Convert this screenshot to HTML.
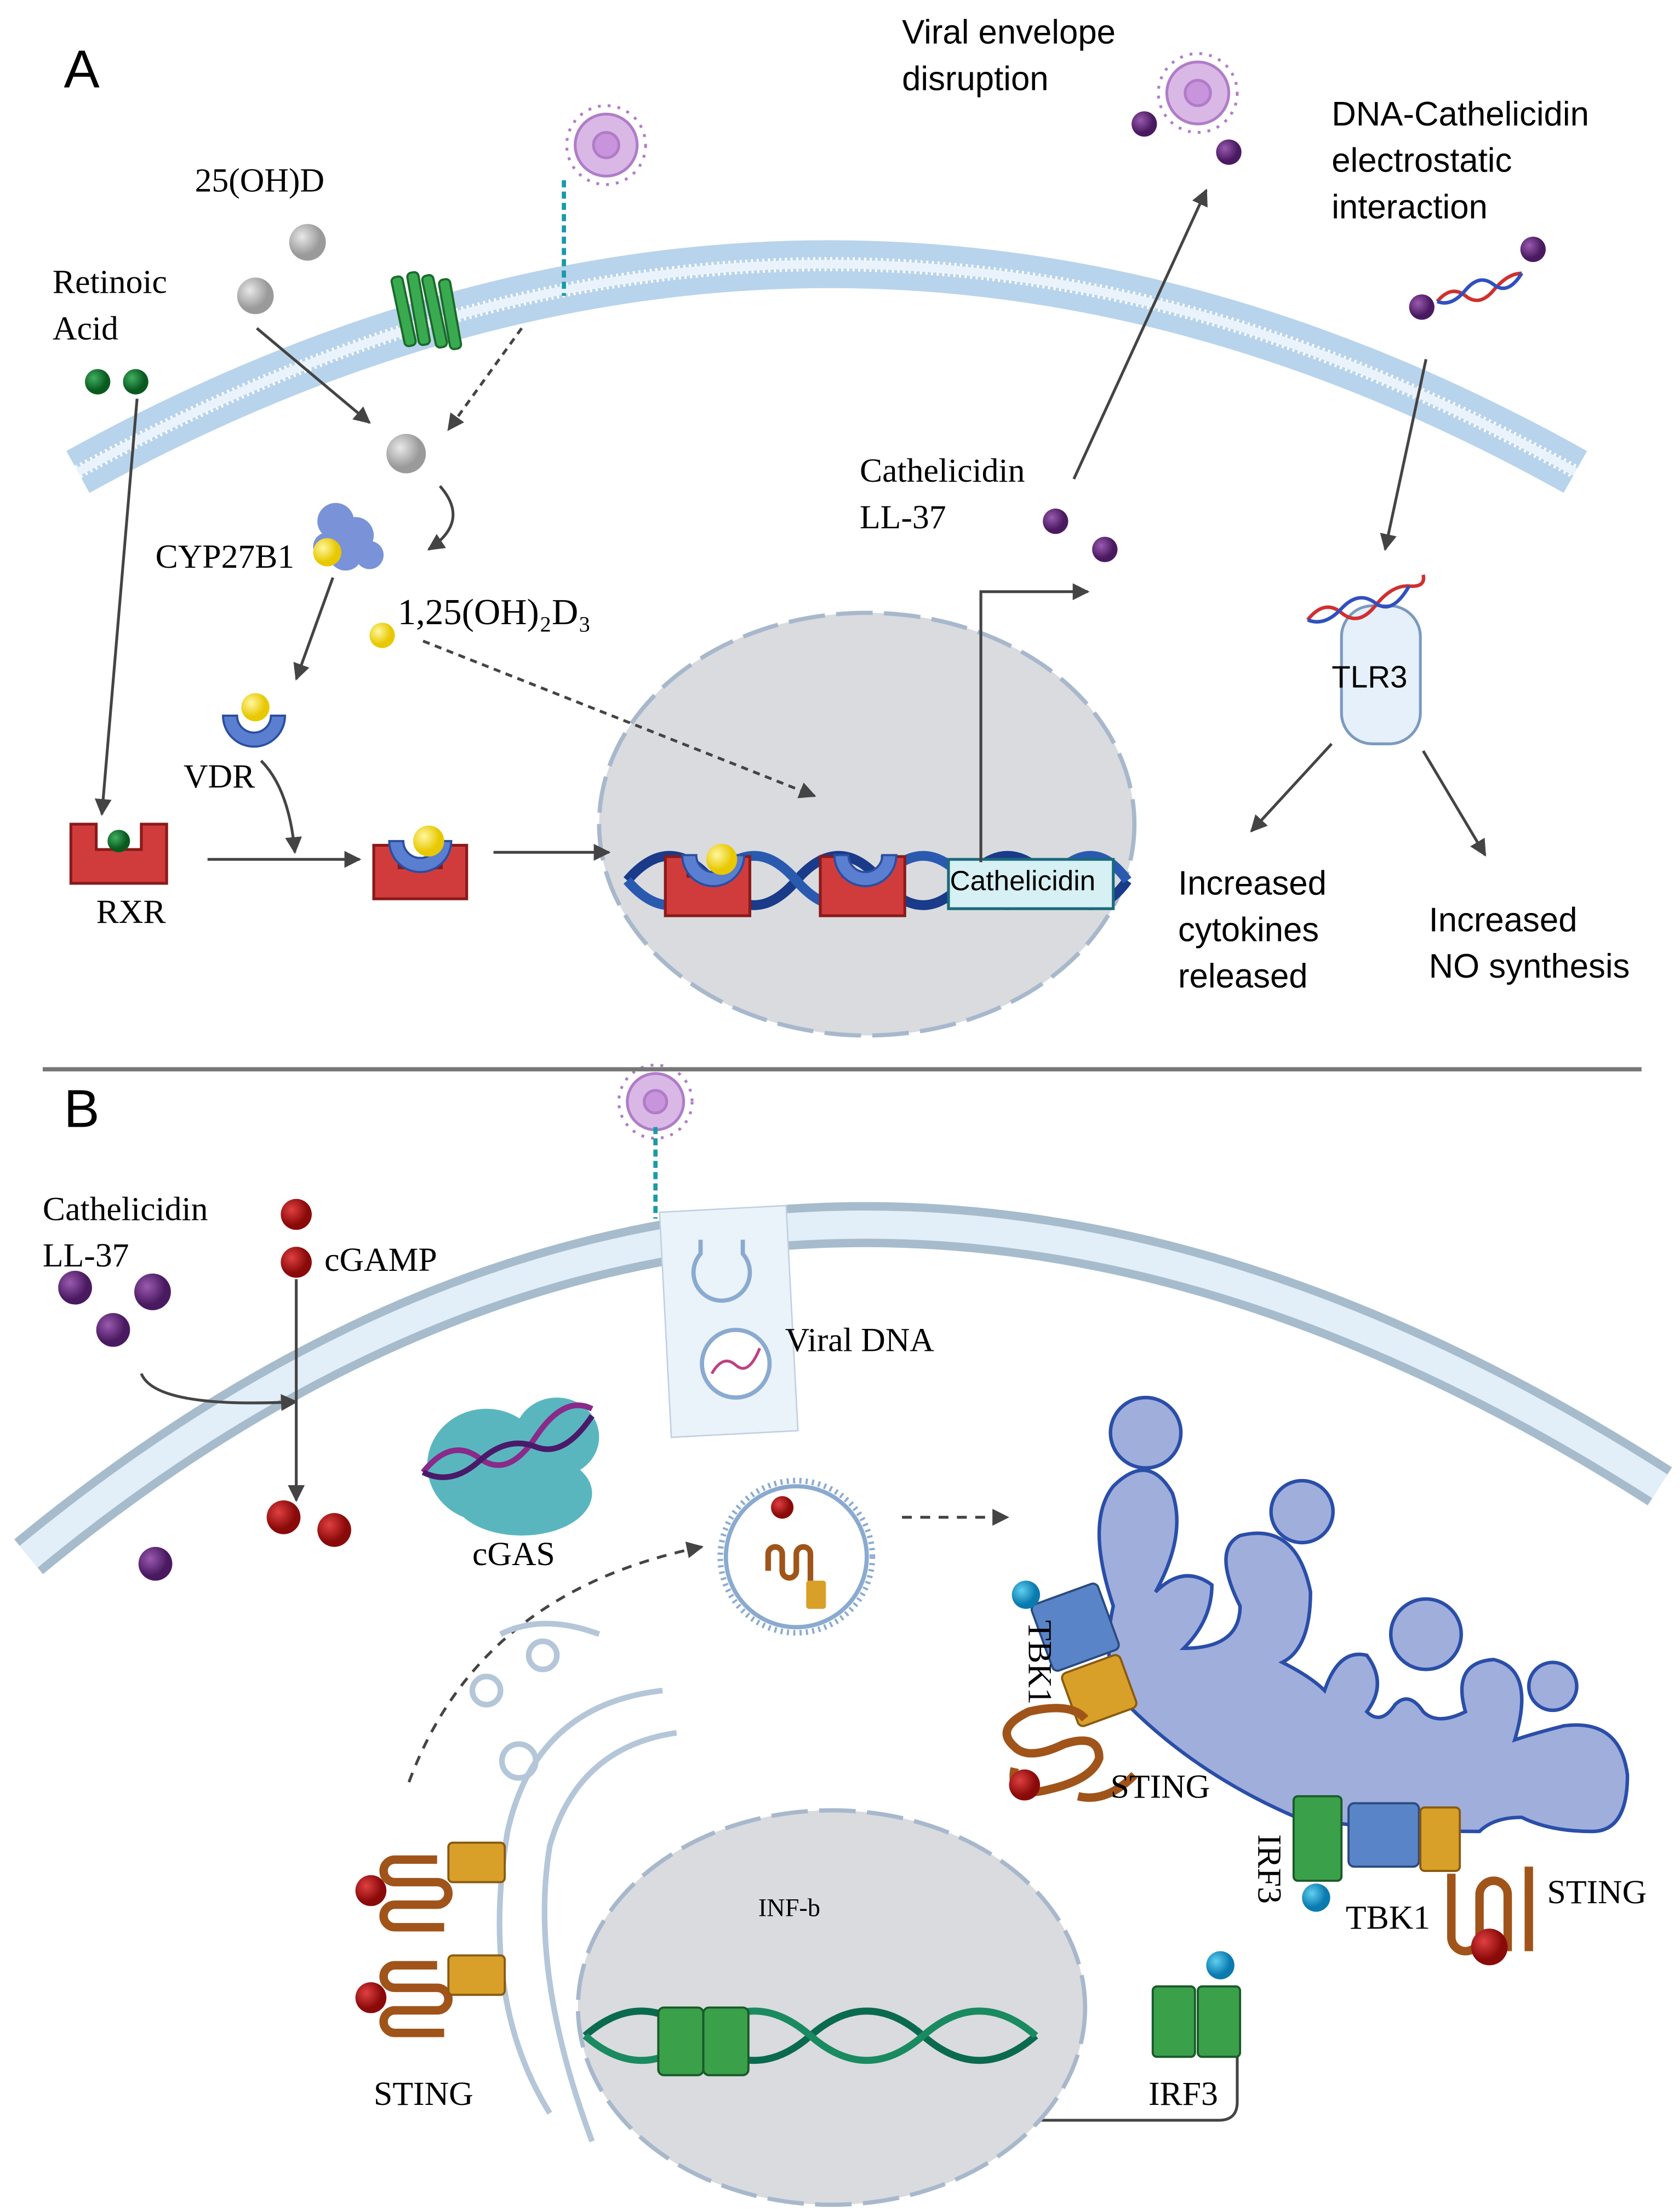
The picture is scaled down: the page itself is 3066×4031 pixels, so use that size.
<!DOCTYPE html>
<html><head><meta charset="utf-8"><style>
html,body{margin:0;padding:0;background:#fff}
svg{display:block}
.s{font-family:"Liberation Sans",sans-serif}
.r{font-family:"Liberation Serif",serif}
</style></head><body>
<svg width="3066" height="4031" viewBox="0 0 1192 1568" xmlns="http://www.w3.org/2000/svg">
<defs>
<marker id="a" viewBox="0 0 10 10" refX="9" refY="5" markerWidth="6" markerHeight="6" orient="auto"><path d="M0,0 L10,5 L0,10 z" fill="#444"/></marker>
<radialGradient id="gy" cx="35%" cy="35%"><stop offset="0" stop-color="#e8e8e8"/><stop offset="1" stop-color="#9a9a9a"/></radialGradient>
<radialGradient id="yl" cx="35%" cy="35%"><stop offset="0" stop-color="#fff7a0"/><stop offset="1" stop-color="#e8c800"/></radialGradient>
<radialGradient id="pu" cx="35%" cy="35%"><stop offset="0" stop-color="#9a5ab0"/><stop offset="1" stop-color="#4a1a60"/></radialGradient>
<radialGradient id="rd" cx="35%" cy="35%"><stop offset="0" stop-color="#e04040"/><stop offset="1" stop-color="#8a0a0a"/></radialGradient>
<radialGradient id="gr" cx="35%" cy="35%"><stop offset="0" stop-color="#40b060"/><stop offset="1" stop-color="#0a5a20"/></radialGradient>
<radialGradient id="bl" cx="35%" cy="35%"><stop offset="0" stop-color="#60d0f0"/><stop offset="1" stop-color="#0a7ab0"/></radialGradient>
</defs>
<rect width="1192" height="1568" fill="#fff"/>

<!-- Panel A membrane -->
<path d="M55,335 Q590,40 1118,335" fill="none" stroke="#b8d4ec" stroke-width="34"/>
<path d="M55,335 Q590,40 1118,335" fill="none" stroke="#fff" stroke-width="10" stroke-dasharray="1.5 2.5"/>
<path d="M55,335 Q590,40 1118,335" fill="none" stroke="#eaf3fb" stroke-width="6"/>

<text x="45" y="62" class="s" font-size="38">A</text>
<text x="640" y="31" class="s" font-size="24">Viral envelope</text>
<text x="640" y="64" class="s" font-size="24">disruption</text>
<text x="945" y="89" class="s" font-size="24">DNA-Cathelicidin</text>
<text x="945" y="122" class="s" font-size="24">electrostatic</text>
<text x="945" y="155" class="s" font-size="24">interaction</text>
<text x="138" y="136" class="r" font-size="24">25(OH)D</text>
<text x="37" y="208" class="r" font-size="24">Retinoic</text>
<text x="37" y="241" class="r" font-size="24">Acid</text>
<text x="110" y="403" class="r" font-size="24">CYP27B1</text>
<text x="282" y="443" class="r" font-size="26">1,25(OH)₂D₃</text>
<text x="130" y="559" class="r" font-size="24">VDR</text>
<text x="68" y="655" class="r" font-size="24">RXR</text>
<text x="610" y="342" class="r" font-size="24">Cathelicidin</text>
<text x="610" y="375" class="r" font-size="24">LL-37</text>
<text x="836" y="635" class="s" font-size="24">Increased</text>
<text x="836" y="668" class="s" font-size="24">cytokines</text>
<text x="836" y="701" class="s" font-size="24">released</text>
<text x="1014" y="661" class="s" font-size="24">Increased</text>
<text x="1014" y="694" class="s" font-size="24">NO synthesis</text>

<!-- viruses -->
<g fill="#d9b8e6" stroke="#b07cc8" stroke-width="2">
<circle cx="430" cy="103" r="22"/><circle cx="850" cy="66" r="22"/><circle cx="465" cy="782" r="20"/>
</g>
<g fill="none" stroke="#b07cc8" stroke-width="2">
<circle cx="430" cy="103" r="28" stroke-dasharray="2 5"/><circle cx="850" cy="66" r="28" stroke-dasharray="2 5"/><circle cx="465" cy="782" r="26" stroke-dasharray="2 5"/>
<circle cx="430" cy="103" r="9" fill="#c894dc"/><circle cx="850" cy="66" r="9" fill="#c894dc"/><circle cx="465" cy="782" r="8" fill="#c894dc"/>
</g>
<line x1="400" y1="128" x2="400" y2="210" stroke="#1a9aa8" stroke-width="3" stroke-dasharray="5 3"/>
<line x1="465" y1="800" x2="465" y2="865" stroke="#1a9aa8" stroke-width="3" stroke-dasharray="5 3"/>
<!-- green receptor -->
<g fill="#3aaa50" stroke="#1a6a2a" stroke-width="1.5">
<rect x="282" y="196" width="8" height="50" rx="3" transform="rotate(-12 286 220)"/>
<rect x="293" y="193" width="8" height="52" rx="3" transform="rotate(-10 297 220)"/>
<rect x="304" y="195" width="8" height="52" rx="3" transform="rotate(-12 308 220)"/>
<rect x="315" y="198" width="8" height="50" rx="3" transform="rotate(-10 319 222)"/>
</g>

<!-- dots A -->
<circle cx="218" cy="172" r="13" fill="url(#gy)"/><circle cx="181" cy="210" r="13" fill="url(#gy)"/><circle cx="288" cy="322" r="14" fill="url(#gy)"/>
<circle cx="69" cy="271" r="9" fill="url(#gr)"/><circle cx="96" cy="271" r="9" fill="url(#gr)"/>
<circle cx="812" cy="88" r="9" fill="url(#pu)"/><circle cx="872" cy="108" r="9" fill="url(#pu)"/>
<circle cx="1009" cy="218" r="9" fill="url(#pu)"/><circle cx="1088" cy="177" r="9" fill="url(#pu)"/>
<path d="M1020,214 q10,-12 20,-4 t20,-4 t20,-12" fill="none" stroke="#d03030" stroke-width="2.5"/>
<path d="M1020,214 q10,4 20,-8 t20,-4 t20,-8" fill="none" stroke="#3050c0" stroke-width="2.5"/>
<circle cx="749" cy="370" r="9" fill="url(#pu)"/><circle cx="784" cy="390" r="9" fill="url(#pu)"/>

<!-- CYP27B1 -->
<g fill="#7a92d8"><circle cx="238" cy="370" r="13"/><circle cx="252" cy="380" r="13"/><circle cx="245" cy="393" r="12"/><circle cx="262" cy="394" r="10"/><circle cx="232" cy="388" r="10"/></g>
<circle cx="232" cy="392" r="10" fill="url(#yl)"/>
<circle cx="271" cy="451" r="9" fill="url(#yl)"/>

<!-- VDR -->
<path d="M158,508 a22,22 0 0 0 44,0 l-10,0 a12,12 0 0 1 -24,0 z" fill="#5a7ed0" stroke="#2a4ea0" stroke-width="1.5"/>
<circle cx="181" cy="502" r="10" fill="url(#yl)"/>
<!-- RXR -->
<path d="M50,585 h18 v18 h32 v-18 h18 v42 h-68 z" fill="#d03c3c" stroke="#8a1a1a" stroke-width="2"/>
<circle cx="84" cy="597" r="8" fill="url(#gr)"/>
<!-- complex -->
<path d="M265,600 h18 v16 h30 v-16 h18 v38 h-66 z" fill="#d03c3c" stroke="#8a1a1a" stroke-width="2"/>
<path d="M276,597 a22,22 0 0 0 44,0 l-10,0 a12,12 0 0 1 -24,0 z" fill="#5a7ed0" stroke="#2a4ea0" stroke-width="1.5"/>
<circle cx="304" cy="597" r="11" fill="url(#yl)"/>

<!-- Nucleus A -->
<ellipse cx="615" cy="585" rx="190" ry="150" fill="#d9dbde" stroke="#a8b8cc" stroke-width="3" stroke-dasharray="26 8"/>
<path d="M445,625 q30,-35 60,0 t60,0 t60,0 t60,0 t60,0 t55,0" fill="none" stroke="#1a3a8a" stroke-width="7"/>
<path d="M445,625 q30,35 60,0 t60,0 t60,0 t60,0 t60,0 t55,0" fill="none" stroke="#2a5ab0" stroke-width="7"/>
<path d="M472,608 h16 v14 h28 v-14 h16 v42 h-60 z" fill="#d03c3c" stroke="#8a1a1a" stroke-width="2"/>
<path d="M484,607 a22,22 0 0 0 44,0 l-10,0 a12,12 0 0 1 -24,0 z" fill="#5a7ed0" stroke="#2a4ea0" stroke-width="1.5"/>
<circle cx="512" cy="610" r="11" fill="url(#yl)"/>
<path d="M582,608 h16 v14 h28 v-14 h16 v42 h-60 z" fill="#d03c3c" stroke="#8a1a1a" stroke-width="2"/>
<path d="M592,607 a22,22 0 0 0 44,0 l-10,0 a12,12 0 0 1 -24,0 z" fill="#5a7ed0" stroke="#2a4ea0" stroke-width="1.5"/>
<rect x="673" y="610" width="117" height="35" fill="#d6f0f4" stroke="#1a6a7a" stroke-width="2"/>
<text x="674" y="632" class="s" font-size="20">Cathelicidin</text>

<!-- TLR3 -->
<rect x="952" y="430" width="56" height="98" rx="22" fill="#e6f0fa" stroke="#7a9ac0" stroke-width="2"/>
<path d="M928,440 q12,-15 24,-5 t24,-5 t24,-14 t10,-8" fill="none" stroke="#d03030" stroke-width="2.5"/>
<path d="M928,440 q12,5 24,-8 t24,-4 t24,-12" fill="none" stroke="#3050c0" stroke-width="2.5"/>
<text x="945" y="488" class="s" font-size="22">TLR3</text>

<!-- arrows A -->
<g stroke="#444" stroke-width="2" fill="none" marker-end="url(#a)">
<line x1="182" y1="233" x2="262" y2="300"/>
<line x1="370" y1="233" x2="318" y2="305" stroke-dasharray="5 4"/>
<path d="M312,345 q22,25 -8,45"/>
<line x1="236" y1="410" x2="210" y2="482"/>
<line x1="97" y1="283" x2="72" y2="578"/>
<path d="M185,540 q20,20 24,65"/>
<line x1="147" y1="610" x2="255" y2="610"/>
<line x1="350" y1="605" x2="432" y2="605"/>
<line x1="300" y1="455" x2="578" y2="565" stroke-dasharray="5 4"/>
<path d="M696,612 V420 H772"/>
<line x1="762" y1="340" x2="856" y2="135"/>
<line x1="1012" y1="255" x2="983" y2="390"/>
<line x1="945" y1="528" x2="888" y2="590"/>
<line x1="1010" y1="533" x2="1054" y2="607"/>
</g>

<!-- divider -->
<line x1="30" y1="759" x2="1165" y2="759" stroke="#777" stroke-width="3"/>
<text x="45" y="800" class="s" font-size="38">B</text>

<!-- membrane B -->
<path d="M20,1105 Q560,660 1178,1055" fill="none" stroke="#a6bccc" stroke-width="32"/>
<path d="M20,1105 Q560,660 1178,1055" fill="none" stroke="#e2eef8" stroke-width="20"/>

<!-- endosome with viral DNA -->
<rect x="472" y="858" width="90" height="160" fill="#eaf2fa" stroke="#c0d0e0" stroke-width="1" transform="rotate(-3 517 938)"/>
<path d="M497,880 v10 a20,20 0 1 0 30,0 v-10" fill="none" stroke="#8aaad0" stroke-width="3"/>
<circle cx="522" cy="968" r="24" fill="#fff" stroke="#8aaad0" stroke-width="3"/>
<path d="M505,975 q8,-14 17,-6 t17,-12" fill="none" stroke="#c04080" stroke-width="2"/>

<text x="30" y="866" class="r" font-size="24">Cathelicidin</text>
<text x="30" y="899" class="r" font-size="24">LL-37</text>
<text x="230" y="902" class="r" font-size="24">cGAMP</text>
<text x="557" y="959" class="r" font-size="24">Viral DNA</text>
<text x="335" y="1111" class="r" font-size="24">cGAS</text>

<circle cx="210" cy="862" r="11" fill="url(#rd)"/><circle cx="210" cy="896" r="11" fill="url(#rd)"/>
<circle cx="53" cy="914" r="12" fill="url(#pu)"/><circle cx="108" cy="917" r="13" fill="url(#pu)"/><circle cx="80" cy="944" r="12" fill="url(#pu)"/>
<circle cx="110" cy="1110" r="12" fill="url(#pu)"/>
<circle cx="201" cy="1077" r="12" fill="url(#rd)"/><circle cx="237" cy="1086" r="12" fill="url(#rd)"/>
<!-- cGAS -->
<g fill="#5ab6be"><ellipse cx="345" cy="1040" rx="42" ry="40"/><ellipse cx="395" cy="1020" rx="30" ry="28"/><ellipse cx="370" cy="1060" rx="50" ry="30"/></g>
<path d="M300,1045 q20,-25 40,-10 t40,-15 t40,-20" fill="none" stroke="#8a2a8a" stroke-width="4"/>
<path d="M300,1045 q20,10 40,-8 t40,-10 t40,-22" fill="none" stroke="#4a1a6a" stroke-width="4"/>

<!-- vesicle -->
<circle cx="565" cy="1105" r="50" fill="#fff" stroke="#8aaad0" stroke-width="3"/>
<circle cx="565" cy="1105" r="54" fill="none" stroke="#8aaad0" stroke-width="4" stroke-dasharray="1.5 3"/>
<circle cx="555" cy="1070" r="8" fill="url(#rd)"/>
<path d="M545,1115 v-12 a5,5 0 0 1 10,0 v12 a5,5 0 0 0 10,0 v-12 a5,5 0 0 1 10,0 v20" fill="none" stroke="#a0541a" stroke-width="4"/>
<rect x="572" y="1122" width="14" height="20" rx="2" fill="#d8a028"/>

<g stroke="#444" stroke-width="2" fill="none" marker-end="url(#a)">
<line x1="210" y1="908" x2="210" y2="1065"/>
<path d="M100,975 q10,25 110,20"/>
<line x1="640" y1="1077" x2="715" y2="1077" stroke-dasharray="7 6"/>
<path d="M290,1265 Q340,1130 498,1098" stroke-dasharray="7 6"/>
<path d="M510,1410 V1358 H650"/>
<path d="M860,1436 H872 Q878,1436 878,1445 V1492 Q878,1505 865,1505 H518"/>
</g>

<!-- Golgi -->
<g fill="none" stroke="#b4c6d8" stroke-width="4">
<path d="M390,1500 Q340,1420 360,1300 Q380,1210 470,1200"/>
<path d="M420,1520 Q375,1400 390,1310 Q410,1240 480,1230"/>
<circle cx="385" cy="1175" r="10"/><circle cx="368" cy="1250" r="12"/><circle cx="345" cy="1200" r="10"/>
<path d="M355,1160 q30,-15 70,0"/>
</g>

<!-- nucleus B -->
<ellipse cx="590" cy="1425" rx="180" ry="140" fill="#d9dbde" stroke="#a8b8cc" stroke-width="3" stroke-dasharray="26 8"/>
<path d="M415,1445 q40,-35 80,0 t80,0 t80,0 t80,0" fill="none" stroke="#0a6a50" stroke-width="5"/>
<path d="M415,1445 q40,35 80,0 t80,0 t80,0 t80,0" fill="none" stroke="#1a8a60" stroke-width="5"/>
<rect x="467" y="1425" width="32" height="48" rx="4" fill="#3aa04a" stroke="#1a5a2a" stroke-width="1.5"/>
<rect x="499" y="1425" width="32" height="48" rx="4" fill="#3aa04a" stroke="#1a5a2a" stroke-width="1.5"/>
<text x="538" y="1360" class="r" font-size="18">INF-b</text>

<!-- STING on Golgi -->
<g fill="none" stroke="#a0541a" stroke-width="6">
<path d="M310,1320 h-30 a8,8 0 0 0 0,16 h30 a8,8 0 0 1 0,16 h-30 a8,8 0 0 0 0,16 h35"/>
<path d="M310,1395 h-30 a8,8 0 0 0 0,16 h30 a8,8 0 0 1 0,16 h-30 a8,8 0 0 0 0,16 h35"/>
</g>
<rect x="318" y="1308" width="40" height="28" rx="3" fill="#d8a028" stroke="#8a5a10" stroke-width="1.5"/>
<rect x="318" y="1388" width="40" height="28" rx="3" fill="#d8a028" stroke="#8a5a10" stroke-width="1.5"/>
<circle cx="263" cy="1342" r="11" fill="url(#rd)"/><circle cx="263" cy="1418" r="11" fill="url(#rd)"/>
<text x="265" y="1494" class="r" font-size="24">STING</text>

<!-- ER blob -->
<g fill="#a0aedc" stroke="#2a4ea8" stroke-width="2.5">
<circle cx="813" cy="1017" r="25"/><circle cx="924" cy="1073" r="22"/><circle cx="1012" cy="1160" r="25"/><circle cx="1102" cy="1197" r="17"/>
</g>
<path d="M790,1140 Q770,1080 790,1055 Q815,1030 832,1060 Q842,1090 820,1130 Q840,1110 860,1125 Q860,1150 840,1170 Q880,1170 880,1140 Q860,1100 880,1090 Q920,1080 930,1130 Q930,1170 910,1180 Q930,1190 940,1200 Q950,1170 970,1175 Q985,1195 970,1215 Q980,1225 990,1210 Q1000,1200 1010,1215 Q1020,1225 1040,1215 Q1030,1180 1060,1178 Q1090,1185 1075,1235 Q1090,1230 1110,1225 Q1150,1220 1155,1260 Q1155,1300 1130,1300 Q1100,1300 1080,1290 Q1060,1290 1050,1300 Q980,1300 920,1290 Q850,1260 800,1210 Q780,1185 790,1140 z" fill="#a0aedc" stroke="#2a4ea8" stroke-width="2.5"/>

<!-- TBK1/STING upper -->
<rect x="738" y="1130" width="50" height="50" rx="4" fill="#5a84c8" stroke="#2a4a80" stroke-width="1.5" transform="rotate(-20 763 1155)"/>
<rect x="758" y="1180" width="44" height="40" rx="4" fill="#d8a028" stroke="#8a5a10" stroke-width="1.5" transform="rotate(-20 780 1200)"/>
<circle cx="728" cy="1132" r="10" fill="url(#bl)"/>
<path d="M770,1220 q-10,-12 -40,-5 q-25,12 -10,25 q10,10 35,-2 q25,-8 25,10 q-5,15 -35,22 q-30,8 -25,-15 M765,1275 q20,5 40,-15" fill="none" stroke="#a0541a" stroke-width="6"/>
<circle cx="727" cy="1267" r="11" fill="url(#rd)"/>
<text x="730" y="1150" class="r" font-size="24" transform="rotate(90 730 1150)">TBK1</text>
<text x="788" y="1276" class="r" font-size="24">STING</text>

<!-- IRF3/TBK1/STING lower -->
<rect x="918" y="1275" width="34" height="60" rx="3" fill="#3aa04a" stroke="#1a5a2a" stroke-width="1.5"/>
<rect x="957" y="1280" width="50" height="45" rx="4" fill="#5a84c8" stroke="#2a4a80" stroke-width="1.5"/>
<rect x="1008" y="1283" width="28" height="45" rx="3" fill="#d8a028" stroke="#8a5a10" stroke-width="1.5"/>
<circle cx="934" cy="1347" r="10" fill="url(#bl)"/>
<path d="M1030,1330 v45 a10,10 0 0 0 20,0 v-30 a10,10 0 0 1 20,0 v40 M1085,1325 v60" fill="none" stroke="#a0541a" stroke-width="6"/>
<circle cx="1057" cy="1382" r="13" fill="url(#rd)"/>
<text x="893" y="1302" class="r" font-size="24" transform="rotate(90 893 1302)">IRF3</text>
<text x="955" y="1369" class="r" font-size="24">TBK1</text>
<text x="1098" y="1351" class="r" font-size="24">STING</text>

<!-- IRF3 free -->
<rect x="818" y="1410" width="30" height="50" rx="3" fill="#3aa04a" stroke="#1a5a2a" stroke-width="1.5"/>
<rect x="850" y="1410" width="30" height="50" rx="3" fill="#3aa04a" stroke="#1a5a2a" stroke-width="1.5"/>
<circle cx="866" cy="1395" r="10" fill="url(#bl)"/>
<text x="815" y="1494" class="r" font-size="24">IRF3</text>
</svg>
</body></html>
